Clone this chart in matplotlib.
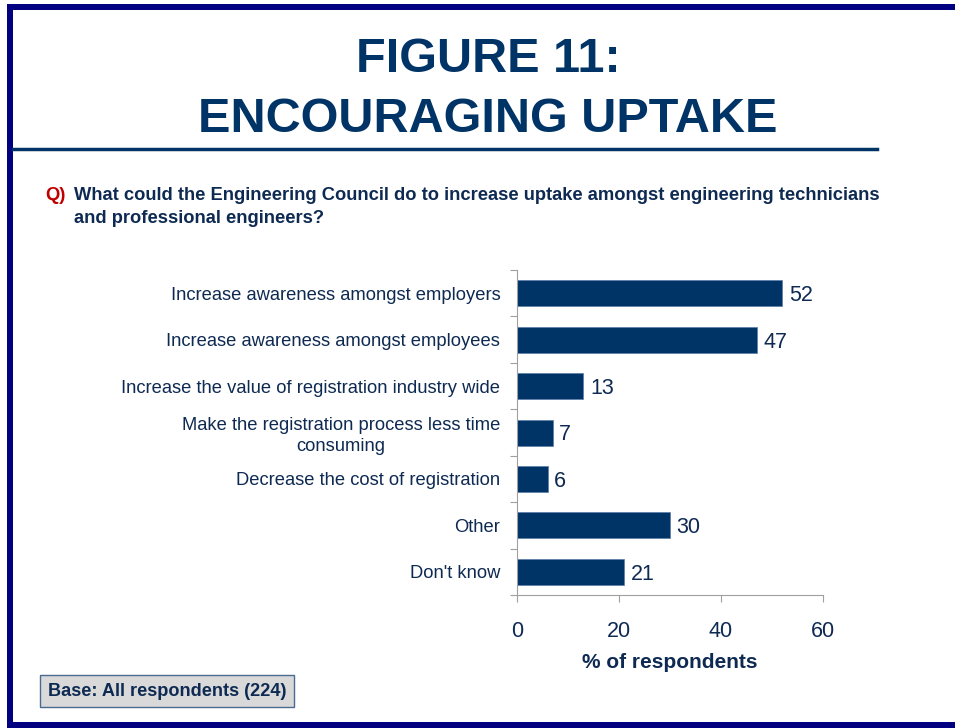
import matplotlib.pyplot as plt
from matplotlib.patches import Rectangle
from matplotlib.lines import Line2D

plt.rcParams['font.family'] = ['Liberation Sans', 'DejaVu Sans']

categories = [
    "Increase awareness amongst employers",
    "Increase awareness amongst employees",
    "Increase the value of registration industry wide",
    "Make the registration process less time\nconsuming",
    "Decrease the cost of registration",
    "Other",
    "Don't know",
]
values = [52, 47, 13, 7, 6, 30, 21]
xticks = [0, 20, 40, 60]

navy = '#003366'
text_col = '#0e2a52'
frame_col = '#000080'

fig = plt.figure(figsize=(9.55, 7.28), dpi=100)

# page frame
fig.add_artist(Rectangle((7 / 955, 1 - 10 / 728), 1, 6 / 728, transform=fig.transFigure,
                         color=frame_col, lw=0))
fig.add_artist(Rectangle((7 / 955, 0), 6 / 955, 1 - 4 / 728, transform=fig.transFigure,
                         color=frame_col, lw=0))
fig.add_artist(Rectangle((7 / 955, 0), 1, 6 / 728, transform=fig.transFigure,
                         color=frame_col, lw=0))
fig.add_artist(Line2D([13 / 955, 877 / 955], [1 - 149 / 728] * 2, transform=fig.transFigure,
                      color=navy, lw=2.5))

fig.text(488 / 955, 1 - 60 / 728, "FIGURE 11:", ha='center', va='center',
         fontsize=35, fontweight='bold', color=navy)
fig.text(488 / 955, 1 - 119 / 728, "ENCOURAGING UPTAKE", ha='center', va='center',
         fontsize=35, fontweight='bold', color=navy)

fig.text(45 / 955, 1 - 196 / 728, "Q)", ha='left', va='center',
         fontsize=13.2, fontweight='bold', color='#c00000')
fig.text(74 / 955, 1 - 196 / 728, "What could the Engineering Council do to increase uptake amongst engineering technicians",
         ha='left', va='center', fontsize=13.2, fontweight='bold', color=text_col)
fig.text(74 / 955, 1 - 218 / 728, "and professional engineers?",
         ha='left', va='center', fontsize=13.2, fontweight='bold', color=text_col)

ax = fig.add_axes([517 / 955, 1 - 595 / 728, 306 / 955, 325 / 728])
y = list(range(len(categories)))
ax.barh(y, values, height=0.56, color=navy, edgecolor='#5a7ca8', linewidth=0.5)
for yi, v in zip(y, values):
    ax.text(v + 1.3, yi, str(v), va='center_baseline', ha='left', fontsize=15.5, color=text_col)

ax.set_xlim(0, 60)
ax.set_ylim(len(categories) - 0.5, -0.5)
ax.set_xticks(xticks)
ax.set_xticklabels([str(t) for t in xticks], fontsize=15.5, color=text_col)
ax.set_yticks([i - 0.5 for i in range(len(categories) + 1)])
ax.set_yticklabels([])
ax.set_yticks(y, minor=True)
ax.set_yticklabels(categories, minor=True, fontsize=13.2, color=text_col, ha='right',
                   multialignment='center', linespacing=1.3)
ax.tick_params(axis='y', which='minor', length=0, pad=12)
ax.tick_params(axis='y', which='major', length=5, color='#a0a0a0')
ax.tick_params(axis='x', length=5, color='#a0a0a0', pad=14)
for s in ['top', 'right']:
    ax.spines[s].set_visible(False)
for s in ['left', 'bottom']:
    ax.spines[s].set_color('#a0a0a0')
ax.set_xlabel("% of respondents", fontsize=15, fontweight='bold', color=text_col, labelpad=8)

# base note
fig.text(167 / 955, 1 - 691 / 728, "Base: All respondents (224)", ha='center', va='center',
         fontsize=13.1, fontweight='bold', color=text_col,
         bbox=dict(boxstyle='square,pad=0.4', facecolor='#d9d9d9', edgecolor='#4a6a90', lw=1))

fig.savefig('out.png', dpi=100)
